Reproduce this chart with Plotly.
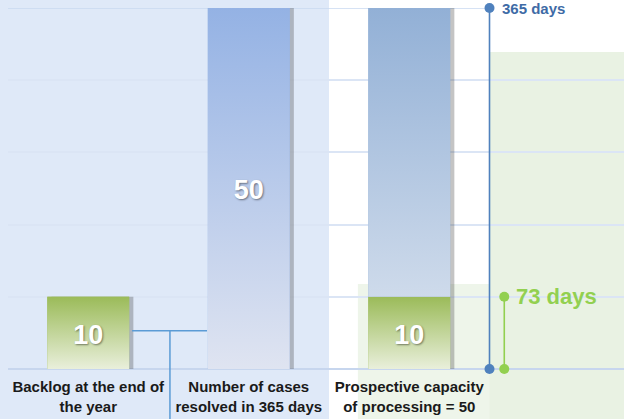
import plotly.graph_objects as go

# ---------------- data ----------------
categories = ["Backlog at the end of<br>the year",
              "Number of cases<br>resolved in 365 days",
              "Prospective capacity<br>of processing = 50"]
backlog_values = [10, None, 10]      # green segments
resolved_values = [None, 50, 40]     # blue segments (stacked on backlog where present)
bar_labels = ["10", "50", "10"]
period_days = [365, 73]
period_labels = ["365 days", "73 days"]
next_category_stub = "T"

# ---------------- geometry / style ----------------
W = 0.51
X_RANGE = [-0.5, 3.338]
Y_RANGE = [0, 50]
FONT = "Arial, Liberation Sans, sans-serif"
LABEL_NUDGE = 0.55   # vertical nudge of the in-bar labels (data units)

GREEN_SCALE = [[0, "#e9efdb"], [1, "#9bbb59"]]
BLUE2_SCALE = [[0, "#dfe4f1"], [1, "#94b2e4"]]
BLUE3_SCALE = [[0, "#dde5f0"], [1, "#92b0d6"]]


def xpaper(x):
    return (x - X_RANGE[0]) / (X_RANGE[1] - X_RANGE[0])


fig = go.Figure()

segments = []  # (x, base, value, scale, top_for_gradient)
for i, (g, b) in enumerate(zip(backlog_values, resolved_values)):
    if g is not None:
        segments.append((i, 0, g, GREEN_SCALE, g))
    if b is not None:
        base = g if g is not None else 0
        segments.append((i, base, b, BLUE2_SCALE if i == 1 else BLUE3_SCALE, base + b))

# shadows
for (i, base, v, sc, top) in segments:
    fig.add_trace(go.Bar(x=[i], y=[v], base=[base], width=W, offset=-W / 2 + 0.026,
                         marker=dict(color="rgba(60,60,60,0.30)", line=dict(width=0)),
                         showlegend=False, hoverinfo="skip"))
# real bars
for (i, base, v, sc, top) in segments:
    fig.add_trace(go.Bar(x=[i], y=[v], base=[base], width=W,
                         marker=dict(color=sc[1][1], line=dict(width=0)),
                         showlegend=False))

# gradient overlays computed from the same bar data
for (i, base, v, sc, top) in segments:
    x0, x1 = i - W / 2, i + W / 2
    fig.add_trace(go.Scatter(
        x=[x0, x1, x1, x0, x0], y=[base, base, base + v, base + v, base],
        mode="lines", line=dict(width=0), fill="toself",
        fillgradient=dict(type="vertical", colorscale=sc, start=0, stop=top),
        showlegend=False, hoverinfo="skip"))

# bar value labels
for i, (g, b) in enumerate(zip(backlog_values, resolved_values)):
    total = (g or 0) + (b or 0)
    yc = (g / 2) if (g is not None and i != 1) else total / 2
    fig.add_trace(go.Scatter(
        x=[i], y=[yc - LABEL_NUDGE], mode="text", text=[bar_labels[i]],
        textfont=dict(family=FONT, size=27, color="white", weight="bold",
                      shadow="1px 1px 2px rgba(0,0,0,0.45)"),
        showlegend=False, hoverinfo="skip", cliponaxis=False))

# period markers
scale = Y_RANGE[1] / period_days[0]
line_x = [2.5, 2.592]
line_col = ["#4f81bd", "#92d050"]
for k, d in enumerate(period_days):
    fig.add_trace(go.Scatter(
        x=[line_x[k], line_x[k]], y=[0, d * scale], mode="lines+markers",
        line=dict(color=line_col[k], width=1.6),
        marker=dict(color=line_col[k], size=10),
        showlegend=False, hoverinfo="skip", cliponaxis=False))

annotations = [
    dict(x=2.566, y=period_days[0] * scale, text=period_labels[0], xanchor="left",
         yanchor="middle", showarrow=False,
         font=dict(family=FONT, size=15, color="#3e6ba6", weight="bold")),
    dict(x=2.652, y=period_days[1] * scale, text=period_labels[1], xanchor="left",
         yanchor="middle", showarrow=False,
         font=dict(family=FONT, size=22, color="#92d050", weight="bold")),
    dict(x=1.0065, xref="paper", y=-0.046, yref="paper", text=next_category_stub,
         xanchor="left", yanchor="middle", showarrow=False,
         font=dict(family=FONT, size=15, color="#1a1a1a", weight="bold")),
]

conn_y = 5.3
shapes = [
    # light blue panel
    dict(type="rect", xref="paper", yref="paper", x0=-0.05, x1=xpaper(1.5), y0=-0.2, y1=1.05,
         fillcolor="#dfe9f8", line=dict(width=0), layer="below"),
    # lower green panel
    dict(type="rect", xref="paper", yref="paper", x0=xpaper(1.68), x1=1.05, y0=-0.2,
         y1=0.2355, fillcolor="#eef5ea", line=dict(width=0), layer="below"),
    # top gridline
    dict(type="line", xref="paper", yref="y", x0=0, x1=xpaper(2.5), y0=Y_RANGE[1],
         y1=Y_RANGE[1], line=dict(color="#c9d8f0", width=1.5), layer="below"),
    # right green panel
    dict(type="rect", xref="paper", yref="paper", x0=xpaper(2.5), x1=1.05, y0=-0.2,
         y1=0.878, fillcolor="#e9f2e3", line=dict(width=0), layer="between"),
    # connector
    dict(type="line", xref="x", yref="y", x0=0.273, x1=0.74, y0=conn_y, y1=conn_y,
         line=dict(color="#5b9bd5", width=1.5), layer="above"),
    dict(type="line", xref="paper", yref="paper", x0=xpaper(0.509), x1=xpaper(0.509),
         y0=-0.2, y1=conn_y / Y_RANGE[1], line=dict(color="#5b9bd5", width=1.5), layer="above"),
]

fig.update_layout(
    width=624, height=419,
    margin=dict(l=8, r=0, t=8, b=50),
    paper_bgcolor="white", plot_bgcolor="rgba(0,0,0,0)",
    barmode="overlay", showlegend=False,
    shapes=shapes, annotations=annotations,
    xaxis=dict(range=X_RANGE, tickvals=[0, 1, 2], ticktext=categories,
               showgrid=False, zeroline=False, showline=False, ticks="",
               ticklabelstandoff=7,
               tickfont=dict(family=FONT, size=15, color="#1a1a1a", weight="bold")),
    yaxis=dict(range=Y_RANGE, dtick=10, showticklabels=False, ticks="",
               showgrid=True, gridcolor="#dbe5f5", gridwidth=1.5,
               zeroline=True, zerolinecolor="#c7d6ee", zerolinewidth=1.5, showline=False),
)

fig.write_html("out.html", config={"displayModeBar": False},
               post_script="document.body.style.margin='0';document.body.style.overflow='hidden';")
